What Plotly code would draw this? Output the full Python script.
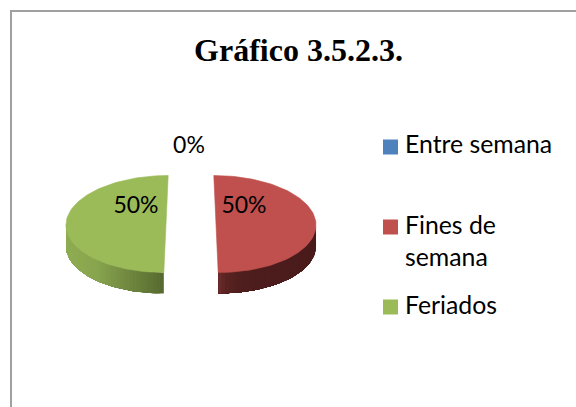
import math
import plotly.graph_objects as go

categories = ["Entre semana", "Fines de semana", "Feriados"]
legend_lines = [["Entre semana"], ["Fines de", "semana"], ["Feriados"]]
values = [0, 50, 50]
percent_labels = ["0%", "50%", "50%"]
title_text = "Gráfico 3.5.2.3."

face_colors = ["#4F81BD", "#C0504D", "#9BBB59"]
side_stops = [
    None,
    [(0.0, "#6E2E2D"), (0.07, "#5A2423"), (0.25, "#4E1D1D"), (1.0, "#4A1B1B")],
    [(0.0, "#8FAC52"), (0.3, "#89A64F"), (0.65, "#6F873F"), (1.0, "#56692F")],
]

# Tilted pie geometry, in window pixels
CX, CY = 191, 224
RX, RY = 100, 48.5
DEPTH = 21
EXPLODE = 25
SHEAR = 0.045
label_xy = [(189, 147), (244, 207), (136, 207)]
legend_y = [147, 227, 307]
legend_text_y = [147, 228, 308]
line_h = 32


def rim(theta, off):
    side = 1 if off > 0 else -1
    px = math.sin(theta) * RX
    py = -math.cos(theta) * RY
    return CX + off + px + side * SHEAR * py, CY + py


def hexmix(a, b, t):
    ca = [int(a[i:i + 2], 16) for i in (1, 3, 5)]
    cb = [int(b[i:i + 2], 16) for i in (1, 3, 5)]
    return "#%02x%02x%02x" % tuple(round(p + (q - p) * t) for p, q in zip(ca, cb))


def side_color(stops, t):
    for (t0, c0), (t1, c1) in zip(stops, stops[1:]):
        if t <= t1:
            return hexmix(c0, c1, (t - t0) / (t1 - t0))
    return stops[-1][1]


fig = go.Figure()
total = sum(values)
start = 0.0
for i, v in enumerate(values):
    sweep = v / total * 2 * math.pi
    if v == 0:
        continue
    end = start + sweep
    mid = (start + end) / 2
    off = EXPLODE * (1 if math.sin(mid) > 0 else -1)
    n = 90
    thetas = [start + sweep * k / n for k in range(n + 1)]
    # Side wall: each strip runs to the end of the front arc, later strips paint over it
    front = [t for t in thetas if math.cos(t) <= 0.001]
    lo_x = min(rim(t, off)[0] for t in front)
    hi_x = max(rim(t, off)[0] for t in front)
    for k in range(len(front) - 1):
        arc = front[k:]
        top = [rim(t, off) for t in arc]
        xs = [p[0] for p in top] + [p[0] for p in reversed(top)] + [top[0][0]]
        ys = [p[1] for p in top] + [p[1] + DEPTH for p in reversed(top)] + [top[0][1]]
        t = ((rim(front[k], off)[0] + rim(front[k + 1], off)[0]) / 2 - lo_x) / (hi_x - lo_x)
        fig.add_trace(go.Scatter(
            x=xs, y=ys, mode="lines", fill="toself",
            fillcolor=side_color(side_stops[i], t), line=dict(width=0),
            hoverinfo="skip", showlegend=False))
    # Top face
    pts = [rim(t, off) for t in thetas]
    xs = [p[0] for p in pts] + [pts[0][0]]
    ys = [p[1] for p in pts] + [pts[0][1]]
    fig.add_trace(go.Scatter(
        x=xs, y=ys, mode="lines", fill="toself", fillcolor=face_colors[i],
        line=dict(width=0.6, color=face_colors[i]),
        name=categories[i], hoverinfo="name", showlegend=False))
    start = end

fig.add_trace(go.Scatter(
    x=[p[0] for p in label_xy], y=[p[1] for p in label_xy],
    text=percent_labels, mode="text", textposition="middle center",
    textfont=dict(family="Lato", size=23, color="#000000"),
    hoverinfo="skip", showlegend=False))

fig.add_trace(go.Scatter(
    x=[390.5] * 3, y=legend_y, mode="markers",
    marker=dict(symbol="square", size=15, color=face_colors, line=dict(width=0)),
    hoverinfo="skip", showlegend=False))

for lines, y in zip(legend_lines, legend_text_y):
    for j, line in enumerate(lines):
        fig.add_trace(go.Scatter(
            x=[405], y=[y + j * line_h], text=[line], mode="text",
            textposition="middle right",
            textfont=dict(family="Lato", size=24.8, color="#000000"),
            hoverinfo="skip", showlegend=False))

fig.add_trace(go.Scatter(
    x=[298.5], y=[53], text=["<b>" + title_text + "</b>"], mode="text",
    textposition="middle center",
    textfont=dict(family="Liberation Serif", size=32, color="#000000"),
    hoverinfo="skip", showlegend=False))

fig.add_shape(type="line", x0=11, x1=11, y0=10, y1=407, line=dict(color="#A0A0A0", width=2))
fig.add_shape(type="line", x0=10, x1=576, y0=11, y1=11, line=dict(color="#A0A0A0", width=2))

fig.update_layout(
    width=576, height=407, margin=dict(l=0, r=0, t=0, b=0),
    paper_bgcolor="white", plot_bgcolor="white", showlegend=False,
    xaxis=dict(range=[0, 576], visible=False, fixedrange=True),
    yaxis=dict(range=[407, 0], visible=False, fixedrange=True),
)
fig.write_html(
    "out.html", config=dict(displayModeBar=False),
    post_script="document.body.style.margin='0';document.body.style.overflow='hidden';",
)
